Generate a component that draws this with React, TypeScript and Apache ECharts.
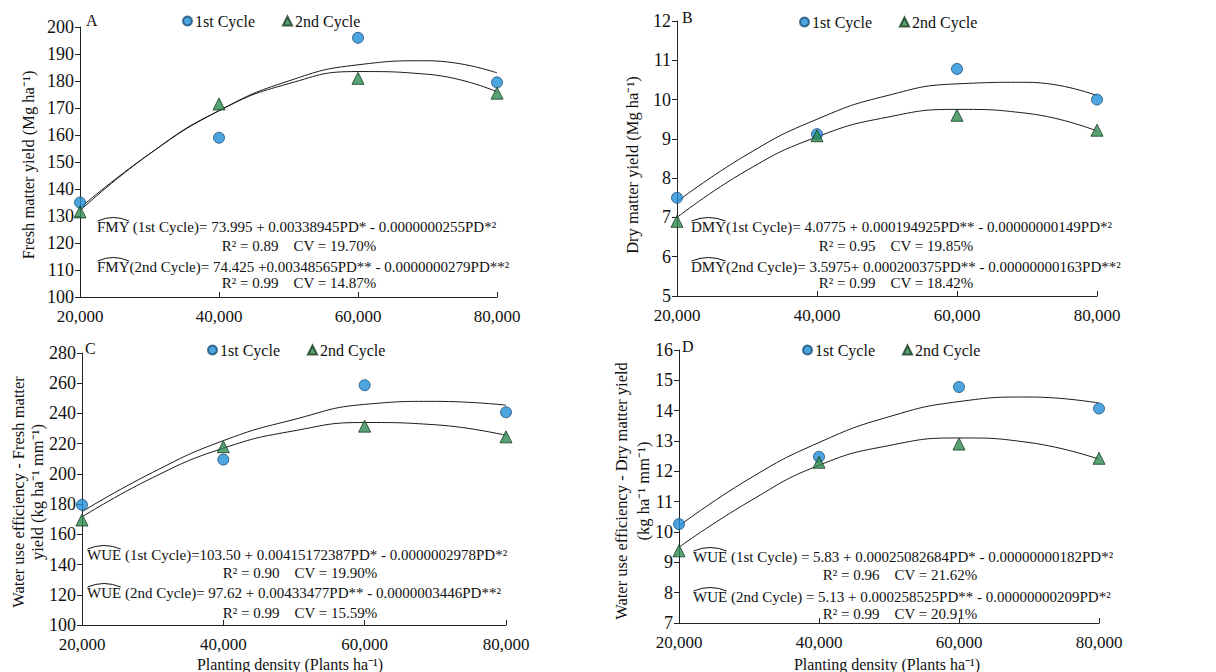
import React, { useEffect, useRef } from "react";
import * as echarts from "echarts";

// ---------------- data ----------------
const densities = [20000, 40000, 60000, 80000];
const curveX = [20000, 30000, 40000, 50000, 60000, 70000, 80000];
const xTicks = ["20,000", "40,000", "60,000", "80,000"];

// Panel A – fresh matter yield (Mg/ha)
const fmyCycle1 = [135, 159, 196, 179.5];
const fmyCycle2 = [131.5, 171.5, 181, 175.5];
const fmyFit1 = [133, 153, 169, 180, 186, 187.5, 183];
const fmyFit2 = [132, 153, 169, 179, 183.5, 182.5, 176];

// Panel B – dry matter yield (Mg/ha)
const dmyCycle1 = [7.5, 9.12, 10.78, 10.0];
const dmyCycle2 = [6.9, 9.08, 9.6, 9.22];
const dmyFit1 = [7.4, 8.6, 9.5, 10.1, 10.4, 10.44, 10.1];
const dmyFit2 = [7.0, 8.2, 9.05, 9.55, 9.75, 9.65, 9.2];

// Panel C – WUE fresh matter
const wueFCycle1 = [179.5, 209.5, 258.7, 240.8];
const wueFCycle2 = [169.5, 218, 231.6, 224.5];
const wueFFit1 = [175, 201, 222, 236, 246, 248, 245.5];
const wueFFit2 = [171.5, 197.5, 217, 228.5, 234, 232.5, 225.5];

// Panel D – WUE dry matter
const wueDCycle1 = [10.26, 12.48, 14.78, 14.07];
const wueDCycle2 = [9.38, 12.3, 12.9, 12.43];
const wueDFit1 = [10.2, 11.75, 12.95, 13.8, 14.3, 14.45, 14.25];
const wueDFit2 = [9.5, 11.0, 12.2, 12.85, 13.1, 12.95, 12.4];

const seriesNames = ["1st Cycle", "2nd Cycle"];
const panelLetters = ["A", "B", "C", "D"];

const yTitles = [
  ["Fresh matter yield (Mg ha⁻¹)"],
  ["Dry matter yield (Mg ha⁻¹)"],
  ["Water use efficiency - Fresh matter", "yield (kg ha⁻¹ mm⁻¹)"],
  ["Water use efficiency - Dry matter yield", "(kg ha⁻¹ mm⁻¹)"],
];
const xTitle = "Planting density (Plants ha⁻¹)";

const eqHats = ["FMY", "DMY", "WUE", "WUE"];
const equations = [
  [
    "FMY (1st Cycle)= 73.995 + 0.00338945PD* - 0.0000000255PD*²",
    "R² = 0.89    CV = 19.70%",
    "FMY(2nd Cycle)= 74.425 +0.00348565PD** - 0.0000000279PD**²",
    "R² = 0.99    CV = 14.87%",
  ],
  [
    "DMY(1st Cycle)= 4.0775 + 0.000194925PD** - 0.00000000149PD*²",
    "R² = 0.95    CV = 19.85%",
    "DMY(2nd Cycle)= 3.5975+ 0.000200375PD** - 0.00000000163PD**²",
    "R² = 0.99    CV = 18.42%",
  ],
  [
    "WUE (1st Cycle)=103.50 + 0.00415172387PD* - 0.0000002978PD*²",
    "R² = 0.90    CV = 19.90%",
    "WUE (2nd Cycle)= 97.62 + 0.00433477PD** - 0.0000003446PD**²",
    "R² = 0.99    CV = 15.59%",
  ],
  [
    "WUE (1st Cycle) = 5.83 + 0.00025082684PD* - 0.00000000182PD*²",
    "R² = 0.96    CV = 21.62%",
    "WUE (2nd Cycle) = 5.13 + 0.000258525PD** - 0.00000000209PD*²",
    "R² = 0.99    CV = 20.91%",
  ],
];

const yRanges = [
  { min: 100, max: 200, interval: 10 },
  { min: 5, max: 12, interval: 1 },
  { min: 100, max: 280, interval: 20 },
  { min: 7, max: 16, interval: 1 },
];

const scatter1 = [fmyCycle1, dmyCycle1, wueFCycle1, wueDCycle1];
const scatter2 = [fmyCycle2, dmyCycle2, wueFCycle2, wueDCycle2];
const fits1 = [fmyFit1, dmyFit1, wueFFit1, wueDFit1];
const fits2 = [fmyFit2, dmyFit2, wueFFit2, wueDFit2];

// ---------------- layout ----------------
const FONT = "'Liberation Serif', 'Times New Roman', serif";
const grids = [
  { left: 80, top: 27, width: 417, height: 270 },
  { left: 677, top: 21, width: 420, height: 275 },
  { left: 82, top: 353, width: 424, height: 272 },
  { left: 679, top: 350, width: 420, height: 273 },
];
const eqLayout = [
  { x: 97, cx: 299, ys: [227, 246, 267, 283] },
  { x: 691, cx: 896, ys: [227, 246, 267, 283] },
  { x: 87, cx: 300, ys: [555, 573, 593, 613] },
  { x: 693, cx: 900, ys: [557, 575, 597, 614] },
];
const legendPos = [
  { left: 177, top: 8 },
  { left: 794, top: 9 },
  { left: 202, top: 337 },
  { left: 797, top: 337 },
];
const letterPos = [
  { x: 86, y: 20 },
  { x: 682, y: 17 },
  { x: 85, y: 348 },
  { x: 682, y: 346 },
];
const yTitlePos = [
  { xs: [28], y: 165 },
  { xs: [632], y: 165 },
  { xs: [18, 37], y: 492 },
  { xs: [621, 643], y: 491 },
];

const EQ_SIZE = 15;

function measure(text: string, size: number) {
  const ctx = document.createElement("canvas").getContext("2d");
  if (!ctx) return text.length * size * 0.5;
  ctx.font = `${size}px 'Liberation Serif'`;
  return ctx.measureText(text).width;
}

export default function App() {
  const ref = useRef<HTMLDivElement>(null);

  useEffect(() => {
    if (!ref.current) return;
    const chart = echarts.init(ref.current, undefined, { renderer: "svg" });

    const xAxis = grids.map((_, i) => ({
      type: "value",
      gridIndex: i,
      min: 20000,
      max: 80000,
      interval: 20000,
      axisLine: { lineStyle: { color: "#222", width: 1 } },
      axisTick: { inside: true, length: 5, lineStyle: { color: "#222" } },
      splitLine: { show: false },
      axisLabel: {
        fontFamily: FONT,
        fontSize: 17,
        color: "#111",
        margin: 11,
        formatter: (v: number) => xTicks[densities.indexOf(v)] ?? "",
      },
    }));

    const yAxis = grids.map((_, i) => ({
      type: "value",
      gridIndex: i,
      min: yRanges[i].min,
      max: yRanges[i].max,
      interval: yRanges[i].interval,
      axisLine: { show: true, lineStyle: { color: "#222", width: 1 } },
      axisTick: { show: true, inside: false, length: 5, lineStyle: { color: "#222" } },
      splitLine: { show: false },
      axisLabel: { fontFamily: FONT, fontSize: 18, color: "#111", margin: 6 },
    }));

    const series: any[] = [];
    for (let i = 0; i < 4; i++) {
      series.push({
        name: "fit1-" + i,
        type: "line",
        xAxisIndex: i,
        yAxisIndex: i,
        data: curveX.map((x, k) => [x, fits1[i][k]]),
        smooth: 0.5,
        showSymbol: false,
        symbol: "none",
        lineStyle: { color: "#1a1a1a", width: 1 },
        z: 2,
      });
      series.push({
        name: "fit2-" + i,
        type: "line",
        xAxisIndex: i,
        yAxisIndex: i,
        data: curveX.map((x, k) => [x, fits2[i][k]]),
        smooth: 0.5,
        showSymbol: false,
        symbol: "none",
        lineStyle: { color: "#1a1a1a", width: 1 },
        z: 2,
      });
      series.push({
        name: seriesNames[0],
        type: "scatter",
        xAxisIndex: i,
        yAxisIndex: i,
        data: densities.map((x, k) => [x, scatter1[i][k]]),
        symbol: "circle",
        symbolSize: 11,
        itemStyle: { color: "#1f8fd6", borderColor: "#1c4e78", borderWidth: 1 },
        z: 3,
      });
      series.push({
        name: seriesNames[1],
        type: "scatter",
        xAxisIndex: i,
        yAxisIndex: i,
        data: densities.map((x, k) => [x, scatter2[i][k]]),
        symbol: "triangle",
        symbolSize: 12,
        itemStyle: { color: "#2e8b50", borderColor: "#163a22", borderWidth: 1 },
        z: 3,
      });
    }

    const legend = legendPos.map((p) => ({
      data: seriesNames,
      left: p.left,
      top: p.top,
      orient: "horizontal",
      itemWidth: 9,
      itemHeight: 9,
      itemGap: 27,
      selectedMode: false,
      textStyle: { fontFamily: FONT, fontSize: 16, color: "#111", padding: [0, 0, 0, -2] },
    }));

    const graphic: any[] = [];
    for (let i = 0; i < 4; i++) {
      graphic.push({
        type: "text",
        x: letterPos[i].x,
        y: letterPos[i].y,
        style: {
          text: panelLetters[i],
          font: `16px ${FONT}`,
          fill: "#111",
          textVerticalAlign: "middle",
        },
      });
      yTitles[i].forEach((t, k) => {
        graphic.push({
          type: "text",
          x: yTitlePos[i].xs[k],
          y: yTitlePos[i].y,
          rotation: Math.PI / 2,
          style: {
            text: t,
            font: `16.5px ${FONT}`,
            fill: "#111",
            textAlign: "center",
            textVerticalAlign: "middle",
          },
        });
      });
      const L = eqLayout[i];
      equations[i].forEach((t, k) => {
        const centered = k % 2 === 1;
        graphic.push({
          type: "text",
          x: centered ? L.cx : L.x,
          y: L.ys[k],
          style: {
            text: t,
            font: `${EQ_SIZE}px ${FONT}`,
            fill: "#111",
            textAlign: centered ? "center" : "left",
            textVerticalAlign: "middle",
          },
        });
        if (!centered) {
          const w = measure(eqHats[i], EQ_SIZE);
          const yb = L.ys[k] - 6;
          graphic.push({
            type: "bezierCurve",
            shape: {
              x1: L.x + 0.5,
              y1: yb,
              x2: L.x + w - 0.5,
              y2: yb,
              cpx1: L.x + w / 2,
              cpy1: yb - 7,
            },
            style: { stroke: "#111", lineWidth: 1, fill: null },
          });
        }
      });
    }
    [{ x: 290 }, { x: 887 }].forEach((p) => {
      graphic.push({
        type: "text",
        x: p.x,
        y: 664,
        style: {
          text: xTitle,
          font: `16px ${FONT}`,
          fill: "#111",
          textAlign: "center",
          textVerticalAlign: "middle",
        },
      });
    });

    chart.setOption({
      animation: false,
      backgroundColor: "#fff",
      grid: grids,
      xAxis,
      yAxis,
      legend,
      series,
      graphic,
    });

    return () => chart.dispose();
  }, []);

  return (
    <div
      ref={ref}
      style={{ position: "absolute", left: 0, top: 0, width: 1216, height: 672 }}
    />
  );
}
